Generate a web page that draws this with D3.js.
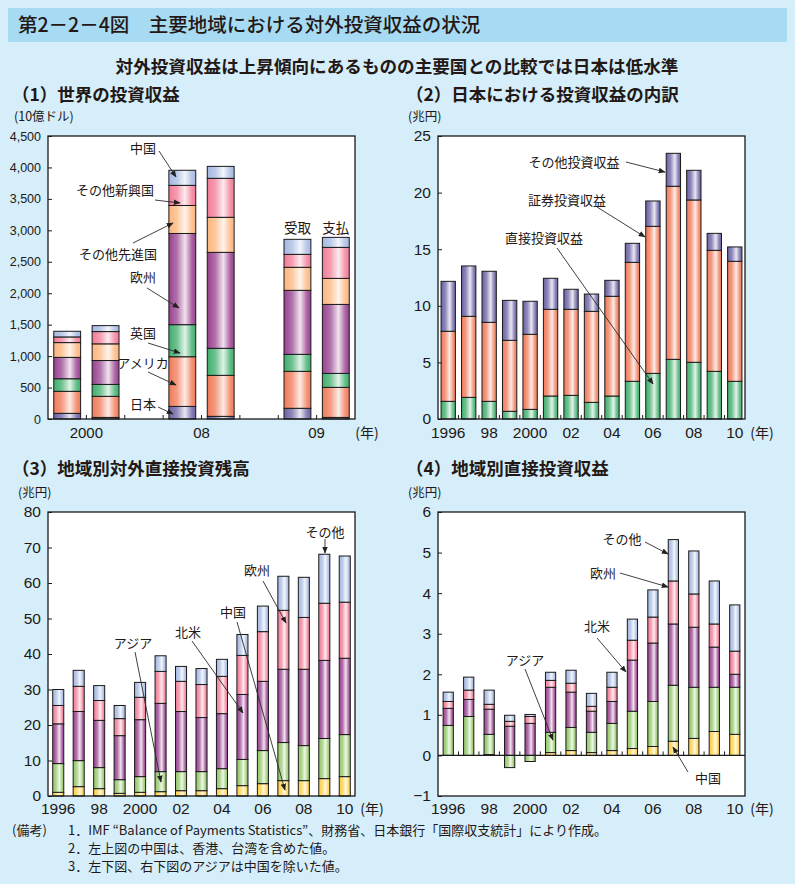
<!DOCTYPE html>
<html><head><meta charset="utf-8">
<script src="https://cdn.jsdelivr.net/npm/d3@7"></script>
<style>
body{margin:0;background:#d5eefa;}
svg text{font-family:"Noto Sans CJK JP","Noto Sans",sans-serif;fill:#231815;}
svg text.num{font-family:"Liberation Sans",Arial,sans-serif;}
</style></head><body>
<svg id="c" width="795" height="884"></svg>
<script>
// ---------------- DATA ----------------
// (1) 世界の投資収益 (10億ドル)
const p1Categories = ["2000 受取","2000 支払","08 受取","08 支払","09 受取","09 支払"];
const p1Series = ["日本","アメリカ","英国","欧州","その他先進国","その他新興国","中国"];
const p1Japan    = [90, 25, 200, 42, 170, 25];
const p1America  = [350, 335, 790, 652, 588, 478];
const p1UK       = [200, 190, 510, 430, 270, 222];
const p1Europe   = [340, 380, 1450, 1526, 1018, 1097];
const p1OtherAdv = [235, 265, 445, 557, 366, 414];
const p1OtherEm  = [90, 195, 320, 620, 206, 493];
const p1China    = [90, 95, 240, 190, 239, 159];
const p1YTicks = [0,500,1000,1500,2000,2500,3000,3500,4000,4500];
const p1XLabels = ["2000","08","09"];

// (2) 日本における投資収益の内訳 (兆円)
const years = [1996,1997,1998,1999,2000,2001,2002,2003,2004,2005,2006,2007,2008,2009,2010];
const p2Series = ["直接投資収益","証券投資収益","その他投資収益"];
const p2Direct     = [1.56,1.91,1.56,0.68,0.85,2.03,2.09,1.47,2.03,3.33,4.03,5.27,5.01,4.21,3.33];
const p2Securities = [6.19,7.16,6.98,6.27,6.63,7.66,7.60,8.04,8.81,10.51,12.99,15.29,14.34,10.69,10.60];
const p2Other      = [4.41,4.45,4.51,3.53,2.92,2.74,1.77,1.53,1.41,1.68,2.24,2.91,2.62,1.50,1.27];
const p2YTicks = [0,5,10,15,20,25];

const yearLabels = ["1996","98","2000","02","04","06","08","10"];
const regionSeries = ["中国","アジア","北米","欧州","その他"];

// (3) 地域別対外直接投資残高 (兆円)
const p3China  = [1.04,2.63,2.07,0.75,1.04,1.22,1.5,1.5,2.07,2.92,3.48,4.33,4.33,4.9,5.46];
const p3Asia   = [8.09,7.34,5.93,3.85,4.42,5.65,5.37,5.37,5.63,7.38,9.32,10.73,9.87,11.3,11.84];
const p3NAm    = [11.2,13.83,13.3,12.4,16.04,19.23,16.93,15.23,15.5,18.3,19.5,20.64,21.5,22.0,21.5];
const p3Europe = [5.17,7.1,5.6,4.8,6.3,9.0,8.5,9.3,10.5,11.0,14.0,16.6,14.6,16.1,15.8];
const p3Other  = [4.5,4.5,4.2,3.7,4.2,4.4,4.2,4.5,4.8,5.9,7.2,9.6,11.3,13.8,13.0];
const p3YTicks = [0,10,20,30,40,50,60,70,80];

// (4) 地域別直接投資収益 (兆円)
const p4China  = [0,0,0.02,0,0,0.07,0.12,0.07,0.12,0.17,0.22,0.35,0.42,0.59,0.52];
const p4Asia   = [0.74,0.96,0.50,-0.30,-0.15,0.50,0.57,0.50,0.67,0.92,1.11,1.38,1.26,1.09,1.16];
const p4NAm    = [0.42,0.42,0.62,0.72,0.79,1.11,0.87,0.52,0.54,1.26,1.44,1.51,1.48,0.99,0.32];
const p4Europe = [0.17,0.23,0.12,0.12,0.17,0.17,0.22,0.12,0.35,0.49,0.64,1.06,0.82,0.57,0.57];
const p4Other  = [0.23,0.32,0.35,0.15,0.05,0.20,0.32,0.32,0.37,0.52,0.67,1.02,1.06,1.06,1.14];
const p4YTicks = [-1,0,1,2,3,4,5,6];

// ---------------- STYLE ----------------
const C = {
  navy:"#6a62a4", salmon:"#f07a58", green:"#3fae6c", purple:"#98418f",
  lorange:"#fcb57d", pink:"#f17c97", lblue:"#a6b9e2",
  lgreen:"#92c767", yellow:"#fdcf42"
};
const svg = d3.select("#c");
const defs = svg.append("defs");
function grad(id, c){
  const g = defs.append("linearGradient").attr("id", id).attr("x1",0).attr("x2",1).attr("y1",0).attr("y2",0);
  const w = (t)=>d3.interpolateRgb(c,"#ffffff")(t);
  [[0,c],[0.3,w(0.25)],[0.6,w(0.85)],[0.85,w(0.2)],[1,c]].forEach(([o,col])=>
    g.append("stop").attr("offset",o).attr("stop-color",col));
  return `url(#${id})`;
}
const F = {};
Object.keys(C).forEach(k=>F[k]=grad("g_"+k, C[k]));
defs.append("marker").attr("id","ah").attr("viewBox","0 0 10 10").attr("refX",9).attr("refY",5)
  .attr("markerWidth",7).attr("markerHeight",7).attr("markerUnits","userSpaceOnUse").attr("orient","auto")
  .append("path").attr("d","M0,1L10,5L0,9z").attr("fill","#222");

// ---------------- HEADER ----------------
svg.append("rect").attr("x",8).attr("y",8).attr("width",779).attr("height",34).attr("fill","#a7dbf3");
svg.append("text").attr("x",18).attr("y",32).attr("font-size",19.5).attr("font-weight",500)
  .text("第2－2－4図　主要地域における対外投資収益の状況");
svg.append("text").attr("x",397).attr("y",73).attr("text-anchor","middle").attr("font-size",17.6).attr("font-weight",700)
  .text("対外投資収益は上昇傾向にあるものの主要国との比較では日本は低水準");

function heading(x,y,t){ svg.append("text").attr("x",x).attr("y",y).attr("font-size",17.5).attr("font-weight",700).text(t); }
function unit(x,y,t){ svg.append("text").attr("x",x).attr("y",y).attr("font-size",12.5).text(t); }
heading(12,101,"（1）世界の投資収益");
heading(406,101,"（2）日本における投資収益の内訳");
heading(12,475,"（3）地域別対外直接投資残高");
heading(406,475,"（4）地域別直接投資収益");
unit(14,121,"(10億ドル)");
unit(408,121,"(兆円)");
unit(18,497,"(兆円)");
unit(408,497,"(兆円)");

// ---------------- GENERIC PANEL ----------------
function drawPanel(o){
  const g = svg.append("g");
  const x = d3.scaleBand().domain(o.slots).range([o.x0,o.x1]).paddingInner(o.pi).paddingOuter(o.po);
  const y = d3.scaleLinear().domain(o.yDomain).range([o.yB,o.yT]);
  g.append("rect").attr("x",o.x0).attr("y",o.yT).attr("width",o.x1-o.x0).attr("height",o.yB-o.yT)
    .attr("fill","#fff");
  const stack = d3.stack().keys(o.keys).offset(d3.stackOffsetDiverging);
  const layers = stack(o.rows);
  layers.forEach((layer,i)=>{
    g.append("g").selectAll("rect").data(layer.filter(d=>d[1]!==d[0])).join("rect")
      .attr("x",d=>x(d.data.slot)).attr("width",x.bandwidth())
      .attr("y",d=>y(Math.max(d[0],d[1]))).attr("height",d=>Math.abs(y(d[0])-y(d[1])))
      .attr("fill",o.fills[i]).attr("stroke","#1a1a1a").attr("stroke-width",1);
  });
  if(o.yDomain[0]<0){
    g.append("line").attr("x1",o.x0).attr("x2",o.x1).attr("y1",y(0)).attr("y2",y(0)).attr("stroke","#1a1a1a").attr("stroke-width",1.2);
  }
  if(o.bandTicks){
    const base = y(Math.max(0,o.yDomain[0]));
    o.slots.slice(1).forEach(s=>{
      const bx = x(s) - x.step()*x.paddingInner()/2;
      g.append("line").attr("x1",bx).attr("x2",bx).attr("y1",base).attr("y2",base-4).attr("stroke","#1a1a1a").attr("stroke-width",1);
    });
  }
  g.append("rect").attr("x",o.x0).attr("y",o.yT).attr("width",o.x1-o.x0).attr("height",o.yB-o.yT)
    .attr("fill","none").attr("stroke","#1a1a1a").attr("stroke-width",1.3);
  const ya = g.append("g").attr("transform",`translate(${o.x0},0)`)
    .call(d3.axisLeft(y).tickValues(o.yTicks).tickSize(-4).tickPadding(7).tickFormat(o.fmt));
  ya.select(".domain").remove();
  ya.selectAll("line").attr("stroke","#1a1a1a");
  ya.selectAll("text").attr("class","num").attr("font-size",o.yFont).attr("fill","#231815");
  return {x,y,g};
}

// ---------------- PANEL 1 ----------------
const p1Slots = [p1Categories[0],p1Categories[1],"_g1",p1Categories[2],p1Categories[3],"_g2",p1Categories[4],p1Categories[5]];
const p1Rows = p1Categories.map((c,i)=>({slot:c,
  "日本":p1Japan[i],"アメリカ":p1America[i],"英国":p1UK[i],"欧州":p1Europe[i],
  "その他先進国":p1OtherAdv[i],"その他新興国":p1OtherEm[i],"中国":p1China[i]}));
const P1 = drawPanel({slots:p1Slots,x0:48,x1:355,yT:136,yB:419,pi:0.3,po:0.15,yDomain:[0,4500],
  yTicks:p1YTicks,fmt:d3.format(","),yFont:12.5,keys:p1Series,rows:p1Rows,bandTicks:true,
  fills:[F.navy,F.salmon,F.green,F.purple,F.lorange,F.pink,F.lblue]});
[[0,1],[3,4],[6,7]].forEach((pr,i)=>{
  const a = P1.x(p1Slots[pr[0]])+P1.x.bandwidth()/2, b = P1.x(p1Slots[pr[1]])+P1.x.bandwidth()/2;
  svg.append("text").attr("class","num").attr("x",(a+b)/2).attr("y",438).attr("text-anchor","middle")
    .attr("font-size",15).text(p1XLabels[i]);
});
svg.append("text").attr("x",367).attr("y",438).attr("text-anchor","middle").attr("font-size",14).text("(年)");
["受取","支払"].forEach((t,i)=>{
  const s = p1Slots[6+i];
  svg.append("text").attr("x",P1.x(s)+P1.x.bandwidth()/2).attr("y",233).attr("text-anchor","middle").attr("font-size",13.5).text(t);
});

// ---------------- PANEL 2 ----------------
const p2Rows = years.map((yr,i)=>({slot:String(yr),"直接投資収益":p2Direct[i],"証券投資収益":p2Securities[i],"その他投資収益":p2Other[i]}));
const P2 = drawPanel({slots:years.map(String),x0:438,x1:745,yT:136,yB:419,pi:0.3,po:0.15,yDomain:[0,25],
  yTicks:p2YTicks,fmt:d3.format("d"),yFont:15.5,keys:p2Series,rows:p2Rows,bandTicks:true,
  fills:[F.green,F.salmon,F.navy]});

function yearAxis(P,yPos,xNen){
  yearLabels.forEach((t,i)=>{
    const s = String(years[i*2]);
    svg.append("text").attr("class","num").attr("x",P.x(s)+P.x.bandwidth()/2).attr("y",yPos)
      .attr("text-anchor","middle").attr("font-size",15.5).text(t);
  });
  svg.append("text").attr("x",xNen).attr("y",yPos).attr("text-anchor","middle").attr("font-size",14).text("(年)");
}
yearAxis(P2,438,762);

// ---------------- PANEL 3 ----------------
const p3Rows = years.map((yr,i)=>({slot:String(yr),"中国":p3China[i],"アジア":p3Asia[i],"北米":p3NAm[i],"欧州":p3Europe[i],"その他":p3Other[i]}));
const P3 = drawPanel({slots:years.map(String),x0:48,x1:355,yT:512,yB:796,pi:0.46,po:0.23,yDomain:[0,80],
  yTicks:p3YTicks,fmt:d3.format("d"),yFont:15.5,keys:regionSeries,rows:p3Rows,bandTicks:false,
  fills:[F.yellow,F.lgreen,F.purple,F.pink,F.lblue]});
yearAxis(P3,814,372);

// ---------------- PANEL 4 ----------------
const p4Rows = years.map((yr,i)=>({slot:String(yr),"中国":p4China[i],"アジア":p4Asia[i],"北米":p4NAm[i],"欧州":p4Europe[i],"その他":p4Other[i]}));
const P4 = drawPanel({slots:years.map(String),x0:438,x1:745,yT:512,yB:796,pi:0.5,po:0.25,yDomain:[-1,6],
  yTicks:p4YTicks,fmt:d3.format("d"),yFont:15.5,keys:regionSeries,rows:p4Rows,bandTicks:true,
  fills:[F.yellow,F.lgreen,F.purple,F.pink,F.lblue]});
yearAxis(P4,814,762);

// ---------------- ANNOTATIONS ----------------
function note(tx,ty,t,x1,y1,x2,y2,fs){
  svg.append("text").attr("x",tx).attr("y",ty).attr("text-anchor","middle").attr("font-size",fs||13).text(t);
  svg.append("line").attr("x1",x1).attr("y1",y1).attr("x2",x2).attr("y2",y2)
    .attr("stroke","#2a2a2a").attr("stroke-width",0.9).attr("marker-end","url(#ah)");
}
note(143,153,"中国",159,151,176,177);
note(115,195,"その他新興国",155,200,180,203);
note(118,259,"その他先進国",133,243,173,223);
note(143,282,"欧州",147,288,179,308);
note(143,338,"英国",148,343,180,353);
note(143,368,"アメリカ",148,372,176,385);
note(143,409,"日本",158,407,173,414);
note(574,167,"その他投資収益",626,162,665,172);
note(567,205,"証券投資収益",597,207,645,237);
note(544,243,"直接投資収益",557,248,653,384);
note(325,537,"その他",325,539,325,553);
note(257,575,"欧州",263,581,286,623);
note(233,617,"中国",237,622,285,790);
note(188,637,"北米",192,641,243,713);
note(133,648,"アジア",135,652,161,782);
note(622,544,"その他",645,542,668,554);
note(603,578,"欧州",620,573,668,587);
note(597,631,"北米",597,638,626,672);
note(525,665,"アジア",525,669,553,740);
note(708,783,"中国",688,772,673,747);

// ---------------- FOOTNOTES ----------------
const notes = [
  ["(備考)","1．IMF “Balance of Payments Statistics”、財務省、日本銀行「国際収支統計」により作成。"],
  ["","2．左上図の中国は、香港、台湾を含めた値。"],
  ["","3．左下図、右下図のアジアは中国を除いた値。"]
];
notes.forEach((n,i)=>{
  const yy = 835 + i*18;
  if(n[0]) svg.append("text").attr("x",12).attr("y",yy).attr("font-size",13).text(n[0]);
  svg.append("text").attr("x",68).attr("y",yy).attr("font-size",13).text(n[1]);
});
</script>
</body></html>
